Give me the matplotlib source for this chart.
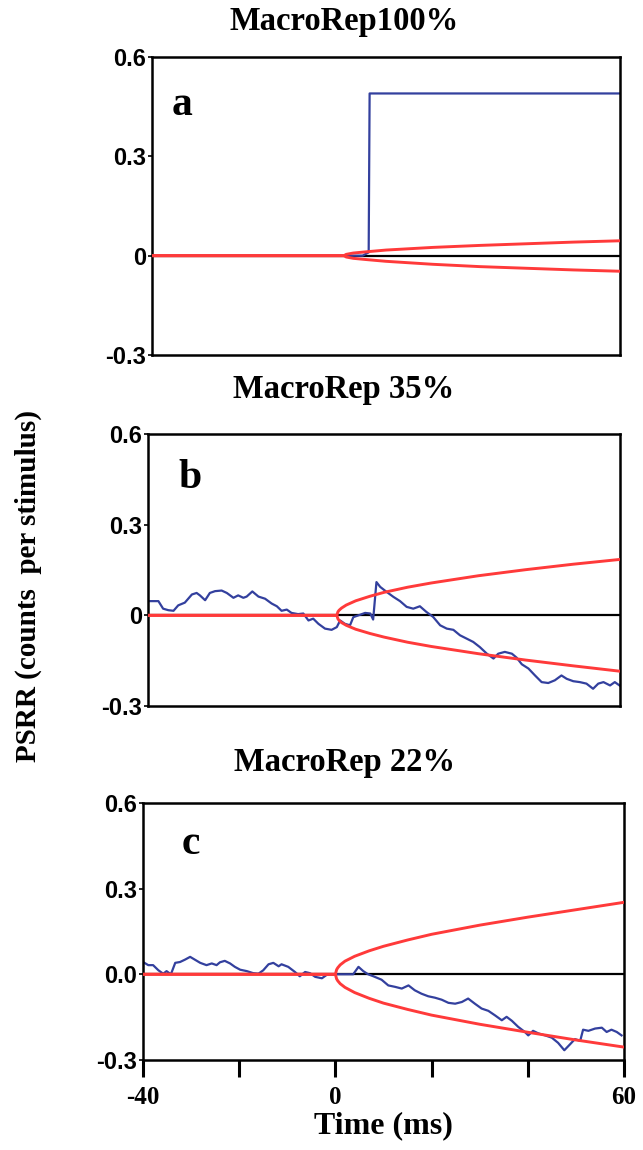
import numpy as np
import matplotlib
matplotlib.use("Agg")
import matplotlib.pyplot as plt

# ---- data ----
x_lim = (-40, 60)
y_lim = (-0.3, 0.6)
y_ticks = [-0.3, 0, 0.3, 0.6]
y_labels_ab = ["-0.3", "0", "0.3", "0.6"]
y_labels_c = ["-0.3", "0.0", "0.3", "0.6"]
x_ticks = [-40, -20, 0, 20, 40, 60]
x_labels = ["-40", "", "0", "", "", "60"]

titles = ["MacroRep100%", "MacroRep 35%", "MacroRep 22%"]
panel_tags = ["a", "b", "c"]

# panel a
t_blue_a = [-40, 5.0, 6.3, 6.5, 60]
blue_a = [0, 0, 0.01, 0.49, 0.49]
t_red_a = [-40, 1, 1.5, 3, 6, 10, 20, 30, 40, 50, 60]
red_a_up = [0, 0, 0.004, 0.008, 0.012, 0.017, 0.025, 0.031, 0.036, 0.041, 0.045]
red_a_lo = [0, 0, -0.004, -0.008, -0.012, -0.017, -0.026, -0.033, -0.038, -0.043, -0.047]

# envelopes for b and c
t_red = [-40, 0, 0.25, 0.5, 1, 2, 4, 7, 10, 15, 20, 30, 40, 50, 60]
red_b_up = [0, 0, 0.012, 0.017, 0.024, 0.034, 0.048, 0.063, 0.076, 0.093, 0.107, 0.131, 0.151, 0.169, 0.185]
red_b_lo = [0, 0, -0.012, -0.017, -0.024, -0.033, -0.046, -0.060, -0.072, -0.089, -0.103, -0.127, -0.148, -0.167, -0.185]
red_c_up = [0, 0, 0.016, 0.023, 0.033, 0.046, 0.063, 0.082, 0.098, 0.120, 0.140, 0.172, 0.200, 0.226, 0.252]
red_c_lo = [0, 0, -0.016, -0.023, -0.033, -0.046, -0.064, -0.084, -0.101, -0.123, -0.143, -0.175, -0.203, -0.230, -0.255]

# panel b trace
t_blue_b = [-40, -37.8, -36.8, -35.7, -34.6, -33.6, -32.2, -30.7, -29.7, -29.0, -27.9, -26.9,
            -25.8, -24.4, -23.3, -21.9, -20.9, -19.8, -19.1, -17.9, -16.6, -15.2, -13.8, -12.7,
            -11.7, -10.6, -9.6, -8.2, -7.1, -6.0, -5.0, -3.9, -2.5, -1.1, 0.0, 0.7, 1.7, 2.8,
            3.5, 4.6, 6.0, 7.1, 7.7, 8.4, 9.2, 10.6, 12.0, 13.4, 14.8, 16.2, 17.6, 19.0, 20.4,
            21.9, 23.3, 24.7, 26.1, 27.5, 28.9, 30.3, 31.8, 33.2, 34.2, 35.6, 37.1, 38.1, 39.2,
            40.6, 42.0, 43.4, 44.8, 46.2, 47.6, 48.7, 50.1, 51.5, 52.9, 54.3, 55.4, 56.5, 57.9,
            58.9, 59.9]
blue_b = [0.047, 0.047, 0.022, 0.017, 0.015, 0.033, 0.042, 0.069, 0.074, 0.066, 0.050, 0.074,
          0.080, 0.082, 0.074, 0.058, 0.066, 0.058, 0.062, 0.079, 0.062, 0.055, 0.039, 0.030,
          0.015, 0.019, 0.008, 0.004, 0.006, -0.017, -0.011, -0.028, -0.044, -0.048, -0.039,
          -0.017, -0.028, -0.033, -0.006, 0.000, 0.008, 0.006, -0.014, 0.110, 0.094, 0.077,
          0.061, 0.047, 0.028, 0.022, 0.030, 0.011, -0.005, -0.033, -0.044, -0.048, -0.066,
          -0.077, -0.088, -0.105, -0.127, -0.143, -0.127, -0.121, -0.127, -0.140, -0.162,
          -0.176, -0.199, -0.221, -0.224, -0.215, -0.199, -0.210, -0.218, -0.221, -0.226,
          -0.243, -0.226, -0.221, -0.232, -0.221, -0.232]

# panel c trace
t_blue_c = [-40, -38.9, -37.9, -36.8, -35.8, -35.1, -34.2, -33.3, -32.3, -31.3, -30.2, -29.2,
            -28.1, -26.8, -25.7, -24.7, -24.0, -23.0, -21.9, -20.9, -19.8, -18.4, -17.1, -16.0,
            -15.0, -13.9, -12.9, -11.8, -11.2, -9.8, -8.4, -7.4, -6.3, -5.3, -4.2, -2.8, -1.8,
            0.0, 2.3, 3.7, 4.8, 5.8, 6.8, 7.9, 9.6, 11.0, 12.4, 13.8, 15.2, 16.5, 17.9, 19.3,
            20.7, 22.1, 23.5, 24.9, 26.3, 27.6, 29.0, 30.4, 31.8, 33.2, 34.6, 35.6, 36.7, 38.0,
            39.4, 40.1, 41.1, 42.2, 43.6, 45.0, 46.3, 47.6, 48.8, 49.8, 50.9, 51.5, 52.6, 54.0,
            55.4, 56.4, 57.4, 58.5, 59.5]
blue_c = [0.043, 0.032, 0.032, 0.014, 0.002, 0.011, 0.000, 0.040, 0.043, 0.051, 0.061, 0.051,
          0.040, 0.032, 0.038, 0.032, 0.042, 0.047, 0.038, 0.026, 0.016, 0.011, 0.004, 0.002,
          0.014, 0.035, 0.040, 0.028, 0.035, 0.026, 0.008, -0.007, 0.008, 0.004, -0.009,
          -0.014, -0.002, 0.000, 0.000, 0.000, 0.026, 0.011, 0.000, -0.007, -0.019, -0.039,
          -0.044, -0.050, -0.039, -0.056, -0.068, -0.077, -0.082, -0.089, -0.100, -0.103,
          -0.097, -0.085, -0.103, -0.120, -0.128, -0.144, -0.161, -0.149, -0.163, -0.184,
          -0.202, -0.214, -0.198, -0.207, -0.214, -0.222, -0.240, -0.266, -0.245, -0.227,
          -0.233, -0.194, -0.198, -0.190, -0.187, -0.202, -0.194, -0.202, -0.214]

blue = "#33409e"
red = "#ff3a3a"
serif = ["Liberation Serif", "DejaVu Serif"]
sans = ["Liberation Sans", "DejaVu Sans"]

fig = plt.figure(figsize=(6.43, 11.5), dpi=100)

# axes boxes in figure fractions (left, bottom, width, height)
boxes = [(0.2364, 0.6913, 0.7278, 0.2591),
         (0.2302, 0.3861, 0.7340, 0.2365),
         (0.2224, 0.0783, 0.7480, 0.2235)]
title_y = [0.981, 0.661, 0.337]
tag_x = [0.064, 0.089, 0.10]

panels = [
    (t_blue_a, blue_a, t_red_a, red_a_up, red_a_lo),
    (t_blue_b, blue_b, t_red, red_b_up, red_b_lo),
    (t_blue_c, blue_c, t_red, red_c_up, red_c_lo),
]

for i, (tb, yb, tr, ru, rl) in enumerate(panels):
    ax = fig.add_axes(boxes[i])
    ax.axhline(0, color="black", lw=1.6, zorder=1)
    ax.plot(tb, yb, color=blue, lw=1.6, zorder=2)
    ax.plot(tr, ru, color=red, lw=2.1, zorder=3)
    ax.plot(tr, rl, color=red, lw=2.1, zorder=3)

    ax.set_xlim(*x_lim)
    ax.set_ylim(*y_lim)
    ax.set_yticks(y_ticks)
    ax.set_yticklabels(y_labels_c if i == 2 else y_labels_ab,
                       fontfamily=sans, fontweight="bold", fontsize=17)
    ax.tick_params(axis="y", direction="out", length=3, width=1.2, pad=1)
    for s in ax.spines.values():
        s.set_linewidth(1.8)

    if i == 2:
        ax.set_xticks(x_ticks)
        ax.set_xticklabels(x_labels, fontfamily=serif, fontweight="bold", fontsize=18)
        ax.tick_params(axis="x", direction="out", length=12, width=2.2, pad=7)
        ax.set_xlabel("Time (ms)", fontfamily=serif, fontweight="bold",
                      fontsize=23, labelpad=1)
    else:
        ax.set_xticks([])

    ax.text(tag_x[i], 0.84, panel_tags[i], transform=ax.transAxes, ha="center", va="center",
            fontfamily=serif, fontweight="bold", fontsize=30)
    fig.text(0.535, title_y[i], titles[i], ha="center", va="center",
             fontfamily=serif, fontweight="bold", fontsize=23.5)

fig.text(0.044, 0.49, "PSRR (counts  per stimulus)", rotation=90, ha="center", va="center",
         fontfamily=serif, fontweight="bold", fontsize=21)

fig.savefig("out.png", dpi=100)
